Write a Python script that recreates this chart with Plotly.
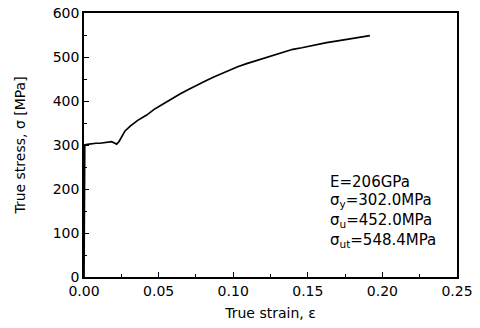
import plotly.graph_objects as go

# True stress-strain data
strain = [0.0, 0.0, 0.0005, 0.0022, 0.005, 0.008, 0.0107, 0.013, 0.0155, 0.0175, 0.0185, 0.0200,
          0.0219, 0.0235, 0.0252, 0.0275, 0.031, 0.036, 0.042, 0.047, 0.053, 0.0585, 0.0643, 0.070, 0.0755,
          0.081, 0.0866, 0.092, 0.0978, 0.103, 0.109, 0.1145, 0.120, 0.1255, 0.1313, 0.136, 0.140,
          0.146, 0.1515, 0.157, 0.1626, 0.170, 0.177, 0.184, 0.1916]
stress = [0, 170, 300, 301.6, 303, 304, 304, 305, 306, 307, 307.5, 305,
          302, 308, 319, 332, 343, 356, 368, 381, 393, 405, 416, 426, 436,
          445, 454, 462, 470, 478, 485, 491, 497, 503, 508, 513, 517.5,
          521, 525, 529, 532.5, 536.5, 540, 544.5, 548.4]

props = ["E=206GPa", "σ<sub>y</sub>=302.0MPa", "σ<sub>u</sub>=452.0MPa", "σ<sub>ut</sub>=548.4MPa"]
prop_y = [217, 174, 129, 84]

x_ticks = [0.0, 0.05, 0.10, 0.15, 0.20, 0.25]
x_ticklabels = ["0.00", "0.05", "0.10", "0.15", "0.20", "0.25"]
y_ticks = [0, 100, 200, 300, 400, 500, 600]

font = "DejaVu Sans, Liberation Sans, Arial, sans-serif"

fig = go.Figure()
fig.add_trace(go.Scatter(x=strain, y=stress, mode="lines",
                         line=dict(color="black", width=1.7), showlegend=False))

for t, yy in zip(props, prop_y):
    fig.add_annotation(x=0.1635, y=yy, text=t, showarrow=False, xanchor="left", yanchor="middle",
                       font=dict(family=font, size=15, color="black"))

axis_common = dict(showline=True, linecolor="black", linewidth=1.5, mirror=True,
                   ticks="inside", ticklen=5, tickwidth=1.2, tickcolor="black",
                   showgrid=False, zeroline=False, automargin=False,
                   tickfont=dict(family=font, size=14, color="black"),
                   minor=dict(ticks="inside", ticklen=3, tickwidth=1, tickcolor="black", showgrid=False))

fig.update_xaxes(range=[0, 0.25], tickvals=x_ticks, ticktext=x_ticklabels,
                 title=dict(text="True strain, ε", font=dict(family=font, size=14, color="black"), standoff=11),
                 **axis_common)
fig.update_yaxes(range=[0, 600], tickvals=y_ticks,
                 title=dict(text="True stress, σ [MPa]", font=dict(family=font, size=14, color="black"), standoff=24),
                 **axis_common)
fig.update_xaxes(minor=dict(tickvals=[0.025, 0.075, 0.125, 0.175, 0.225]))
fig.update_yaxes(minor=dict(tickvals=[50, 150, 250, 350, 450, 550]))

fig.update_layout(width=480, height=328, margin=dict(l=84, r=23, t=13, b=51, autoexpand=False),
                  plot_bgcolor="white", paper_bgcolor="white")

# remove the default page body margin so the figure sits at the window's top-left corner
fig.write_html("out.html", config={"displayModeBar": False},
               post_script="document.body.style.margin='0';")
